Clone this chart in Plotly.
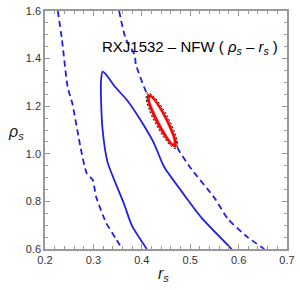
import plotly.graph_objects as go

# Solid blue contour
solid_rs = [0.4102, 0.3796, 0.3633, 0.3429, 0.3292, 0.3190, 0.3157, 0.3157, 0.3190, 0.3259,
            0.3429, 0.3700, 0.3973, 0.4245, 0.4414, 0.4484, 0.4822, 0.5231, 0.5843, 0.5857]
solid_rho = [0.600, 0.698, 0.789, 0.891, 0.965, 1.101, 1.238, 1.306, 1.345, 1.334,
             1.286, 1.224, 1.142, 1.047, 0.965, 0.937, 0.842, 0.732, 0.603, 0.600]

# Left dashed contour
dl_rs = [0.2265, 0.2347, 0.2469, 0.2565, 0.2735, 0.2864, 0.2986, 0.3055, 0.3259, 0.3463, 0.3598]
dl_rho = [1.600, 1.485, 1.280, 1.211, 1.026, 0.917, 0.890, 0.821, 0.712, 0.644, 0.599]

# Right dashed contour
dr_rs = [0.3531, 0.3667, 0.3851, 0.3878, 0.4108, 0.4420, 0.4714, 0.4755, 0.5020, 0.5504,
         0.5776, 0.6184, 0.6531]
dr_rho = [1.600, 1.484, 1.416, 1.375, 1.252, 1.150, 1.047, 1.019, 0.937, 0.814,
          0.727, 0.650, 0.600]

# Red outer contour
ro_rs = [0.4696, 0.4708, 0.4641, 0.4514, 0.4359, 0.4220, 0.4133, 0.4120, 0.4188, 0.4314, 0.4469, 0.4608, 0.4696]
ro_rho = [1.0295, 1.0492, 1.0930, 1.1492, 1.2025, 1.2389, 1.2484, 1.2283, 1.1848, 1.1287, 1.0754, 1.0389, 1.0295]

# Red inner contour
ri_rs = [0.4650, 0.4645, 0.4580, 0.4470, 0.4345, 0.4235, 0.4175, 0.4180, 0.4250, 0.4365, 0.4490, 0.4600, 0.4650]
ri_rho = [1.0440, 1.0610, 1.0980, 1.1460, 1.1920, 1.2250, 1.2360, 1.2200, 1.1820, 1.1340, 1.0880, 1.0540, 1.0440]

# Black dashed contour
bk_rs = [0.4714, 0.4739, 0.4676, 0.4541, 0.4373, 0.4218, 0.4114, 0.4090, 0.4155, 0.4288, 0.4455, 0.4610, 0.4714]
bk_rho = [1.0221, 1.0443, 1.0918, 1.1520, 1.2086, 1.2467, 1.2557, 1.2332, 1.1857, 1.1258, 1.0693, 1.0311, 1.0221]

x_ticks = [0.2, 0.3, 0.4, 0.5, 0.6, 0.7]
y_ticks = [0.6, 0.8, 1.0, 1.2, 1.4, 1.6]

BLUE = "#1f1fe6"
fig = go.Figure()
fig.add_trace(go.Scatter(x=dl_rs, y=dl_rho, mode="lines",
                         line=dict(color=BLUE, width=1.8, dash="6px,4px", shape="spline", smoothing=0.6),
                         hoverinfo="skip"))
fig.add_trace(go.Scatter(x=dr_rs, y=dr_rho, mode="lines",
                         line=dict(color=BLUE, width=1.8, dash="6px,4px", shape="spline", smoothing=0.6),
                         hoverinfo="skip"))
fig.add_trace(go.Scatter(x=solid_rs, y=solid_rho, mode="lines",
                         line=dict(color=BLUE, width=1.8, shape="spline", smoothing=0.6), hoverinfo="skip"))
fig.add_trace(go.Scatter(x=ro_rs, y=ro_rho, mode="lines", fill="toself", fillcolor="red",
                         line=dict(color="red", width=1.5, shape="spline"), hoverinfo="skip"))
fig.add_trace(go.Scatter(x=ri_rs, y=ri_rho, mode="lines", fill="toself", fillcolor="white",
                         line=dict(color="white", width=0.5, shape="spline"), hoverinfo="skip"))
fig.add_trace(go.Scatter(x=bk_rs, y=bk_rho, mode="lines",
                         line=dict(color="black", width=1, dash="2px,2px", shape="spline"), hoverinfo="skip"))

axis_common = dict(showgrid=False, zeroline=False, showline=True, linecolor="#999999", linewidth=1.5,
                   mirror="allticks", ticks="inside", ticklen=5, tickcolor="#999999",
                   tickfont=dict(family="Liberation Sans", size=11, color="#333333"))
fig.update_xaxes(range=[0.2, 0.7], tickvals=x_ticks, ticktext=[f"{v:.1f}" for v in x_ticks],
                 minor=dict(dtick=0.02, tick0=0.2, ticks="inside", ticklen=3, tickcolor="#999999"),
                 **axis_common)
fig.update_yaxes(range=[0.6, 1.6], tickvals=y_ticks, ticktext=[f"{v:.1f}" for v in y_ticks],
                 minor=dict(dtick=0.05, tick0=0.6, ticks="inside", ticklen=3, tickcolor="#999999"),
                 **axis_common)

fig.add_annotation(x=0.5, y=1.445, xref="x", yref="y", showarrow=False,
                   text="RXJ1532 – NFW ( <i>ρ<sub>s</sub></i> – <i>r<sub>s</sub></i> )",
                   font=dict(family="Liberation Sans", size=15, color="black"))
fig.add_annotation(x=0.49, y=-0.155, xref="paper", yref="paper", showarrow=False,
                   text="<i>r<sub>s</sub></i>", font=dict(family="Liberation Sans", size=16, color="#222"))
fig.add_annotation(x=-0.16, y=0.49, xref="paper", yref="paper", showarrow=False,
                   text="<i>ρ<sub>s</sub></i>", font=dict(family="Liberation Sans", size=16, color="#222"))

fig.update_layout(width=300, height=290, margin=dict(l=45, r=10, t=5, b=41),
                  paper_bgcolor="white", plot_bgcolor="white", showlegend=False)
fig.write_html("out.html", config={"displayModeBar": False},
               post_script="document.body.style.margin='0';")
